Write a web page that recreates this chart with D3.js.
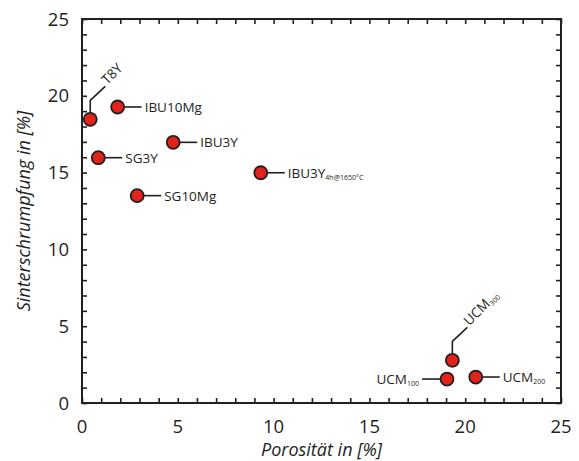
<!DOCTYPE html>
<html>
<head>
<meta charset="utf-8">
<script src="https://cdn.jsdelivr.net/npm/d3@7"></script>
<style>
  body { margin: 0; background: #fff; }
  text { font-family: "Open Sans", sans-serif; fill: #231f20; }
</style>
</head>
<body>
<svg id="chart" width="579" height="461"></svg>
<script>
// data
var names = ['T8Y', 'IBU10Mg', 'IBU3Y', 'SG3Y', 'IBU3Y', 'SG10Mg', 'UCM', 'UCM', 'UCM'];
var subs = ['', '', '', '', '4h@1650°C', '', '300', '100', '200'];
var porositaet = [0.43, 1.86, 4.76, 0.85, 9.33, 2.88, 19.33, 19.05, 20.55];
var schrumpfung = [18.47, 19.27, 16.97, 15.97, 14.99, 13.5, 2.78, 1.56, 1.69];
var xTicks = [0, 5, 10, 15, 20, 25];
var yTicks = [0, 5, 10, 15, 20, 25];

// how each label is attached to its point
var placement = ['kink', 'right', 'right', 'right', 'right', 'right', 'kink', 'left', 'right'];

var svg = d3.select('#chart');
var pLeft = 82, pRight = 561, pTop = 19, pBottom = 403;

var x = d3.scaleLinear().domain([0, 25]).range([pLeft, pRight]);
var y = d3.scaleLinear().domain([0, 25]).range([pBottom, pTop]);

var minor = d3.range(0, 26, 1);

// ticks on all four sides, pointing inward
svg.append('g')
  .attr('transform', `translate(0, ${pBottom})`)
  .call(d3.axisTop(x).tickValues(minor).tickSize(5).tickFormat(''));
svg.append('g')
  .attr('transform', `translate(0, ${pTop})`)
  .call(d3.axisBottom(x).tickValues(minor).tickSize(5).tickFormat(''));
svg.append('g')
  .attr('transform', `translate(${pLeft}, 0)`)
  .call(d3.axisRight(y).tickValues(minor).tickSize(5).tickFormat(''));
svg.append('g')
  .attr('transform', `translate(${pRight}, 0)`)
  .call(d3.axisLeft(y).tickValues(minor).tickSize(5).tickFormat(''));

svg.selectAll('.domain').remove();
svg.selectAll('.tick line').attr('stroke', '#231f20').attr('stroke-width', 1.6);

svg.append('rect')
  .attr('x', pLeft).attr('y', pTop)
  .attr('width', pRight - pLeft).attr('height', pBottom - pTop)
  .attr('fill', 'none').attr('stroke', '#231f20').attr('stroke-width', 2);

// tick labels
svg.selectAll('.xl').data(xTicks).enter().append('text')
  .attr('x', d => x(d)).attr('y', 433)
  .attr('text-anchor', 'middle').attr('font-size', 18.5)
  .text(d => d);
svg.selectAll('.yl').data(yTicks).enter().append('text')
  .attr('x', 69).attr('y', d => y(d) + 6.5)
  .attr('text-anchor', 'end').attr('font-size', 18.5)
  .text(d => d);

// axis titles
svg.append('text')
  .attr('x', (pLeft + pRight) / 2).attr('y', 456)
  .attr('text-anchor', 'middle').attr('font-size', 18)
  .attr('font-style', 'italic')
  .text('Porosität in [%]');
svg.append('text')
  .attr('transform', `translate(30, ${(pTop + pBottom) / 2}) rotate(-90)`)
  .attr('text-anchor', 'middle').attr('font-size', 18)
  .attr('font-style', 'italic')
  .text('Sinterschrumpfung in [%]');

var pts = names.map((n, i) => ({
  name: n, sub: subs[i], px: porositaet[i], sy: schrumpfung[i], how: placement[i]
}));

function addLabel(g, d) {
  var t = g.append('text').attr('font-size', 13.5);
  t.append('tspan').text(d.name);
  if (d.sub) t.append('tspan').attr('font-size', 7).attr('dy', 2).text(d.sub);
  return t;
}

pts.forEach(d => {
  var cx = x(d.px), cy = y(d.sy);
  var g = svg.append('g');
  if (d.how === 'right') {
    g.append('line')
      .attr('x1', cx).attr('y1', cy).attr('x2', cx + 24).attr('y2', cy)
      .attr('stroke', '#231f20').attr('stroke-width', 1.6);
    addLabel(g, d).attr('x', cx + 27).attr('y', cy + 5);
  } else if (d.how === 'left') {
    g.append('line')
      .attr('x1', cx).attr('y1', cy).attr('x2', cx - 25).attr('y2', cy)
      .attr('stroke', '#231f20').attr('stroke-width', 1.6);
    addLabel(g, d).attr('x', cx - 28).attr('y', cy + 5).attr('text-anchor', 'end');
  } else {
    var ky = cy - 19;
    g.append('path')
      .attr('d', `M${cx},${cy} L${cx},${ky} L${cx + 15},${ky - 14}`)
      .attr('fill', 'none').attr('stroke', '#231f20').attr('stroke-width', 1.6);
    addLabel(g, d)
      .attr('transform', `translate(${cx + 17}, ${ky - 15}) rotate(-45)`);
  }
  g.append('circle')
    .attr('cx', cx).attr('cy', cy).attr('r', 6.5)
    .attr('fill', '#e2231a').attr('stroke', '#231f20').attr('stroke-width', 1.8);
});
</script>
</body>
</html>
